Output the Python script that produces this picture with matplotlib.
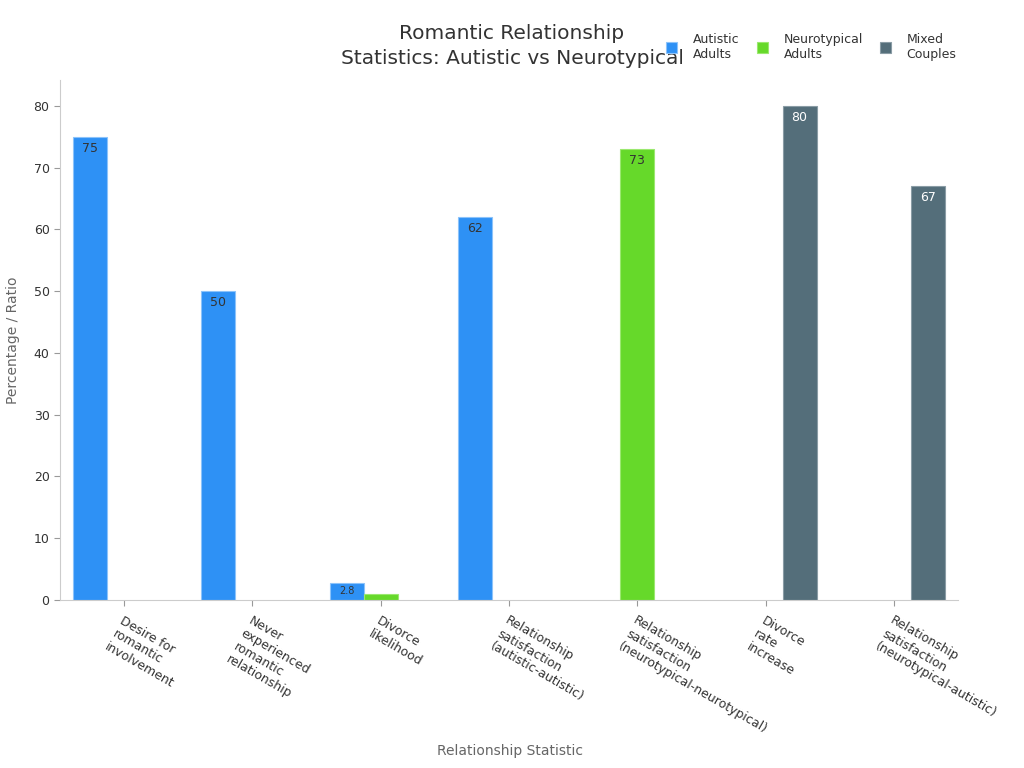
import matplotlib
matplotlib.use("Agg")
import matplotlib.pyplot as plt
import numpy as np

categories = [
    "Desire for\nromantic\ninvolvement",
    "Never\nexperienced\nromantic\nrelationship",
    "Divorce\nlikelihood",
    "Relationship\nsatisfaction\n(autistic-autistic)",
    "Relationship\nsatisfaction\n(neurotypical-neurotypical)",
    "Divorce\nrate\nincrease",
    "Relationship\nsatisfaction\n(neurotypical-autistic)",
]
series_names = ["Autistic\nAdults", "Neurotypical\nAdults", "Mixed\nCouples"]
autistic = [75, 50, 2.8, 62, 0, 0, 0]
neurotypical = [0, 0, 1, 0, 73, 0, 0]
mixed = [0, 0, 0, 0, 0, 80, 67]
colors = ["#2E91F5", "#66D92A", "#546E7A"]
edge_colors = ["#8CC3FA", "#9BE86F", "#8A9CA5"]
label_colors = ["#333333", "#333333", "#FFFFFF"]

fig = plt.figure(figsize=(10.24, 7.68), dpi=100)
ax = fig.add_axes([0.0586, 0.21875, 0.877, 0.677])

x = np.arange(len(categories))
w = 0.265
offsets = [-w, 0, w]
for vals, off, c, ec, lc, name in zip([autistic, neurotypical, mixed], offsets,
                                      colors, edge_colors, label_colors, series_names):
    v_arr = np.array(vals, dtype=float)
    mask = v_arr > 0
    bars = ax.bar(x[mask] + off, v_arr[mask], width=w, color=c, edgecolor=ec,
                  linewidth=0.8, label=name)
    for b, v in zip(bars, v_arr[mask]):
        if v < 2:
            continue
        if v < 5:
            ax.text(b.get_x() + b.get_width() / 2, v / 2, f"{v:g}", ha="center", va="center",
                    fontsize=7, color=lc)
        else:
            ax.text(b.get_x() + b.get_width() / 2, v - 0.8, f"{v:g}", ha="center", va="top",
                    fontsize=9, color=lc)

ax.set_xlim(-0.5, 6.5)
ax.set_ylim(0, 84.2)
ax.set_yticks(range(0, 81, 10))
ax.set_xticks(x)
ax.set_xticklabels(categories, rotation=-30, ha="left", va="top", rotation_mode="anchor",
                   fontsize=9, color="#333333", multialignment="left")
ax.tick_params(axis="y", labelsize=9, colors="#333333", length=4, color="#999999")
ax.tick_params(axis="x", length=4, color="#999999", pad=6)
for s in ["top", "right"]:
    ax.spines[s].set_visible(False)
for s in ["left", "bottom"]:
    ax.spines[s].set_color("#CCCCCC")
ax.set_ylabel("Percentage / Ratio", fontsize=10, color="#666666", labelpad=10)
fig.text(0.498, 1 - 751 / 768, "Relationship Statistic", ha="center", va="center",
         fontsize=10, color="#666666")

fig.text(0.5, 1 - 46 / 768, "Romantic Relationship\nStatistics: Autistic vs Neurotypical",
         ha="center", va="center", fontsize=14.5, color="#333333", linespacing=1.4)

leg = fig.legend(loc="center right", bbox_to_anchor=(0.945, 1 - 47 / 768), ncol=3, frameon=False,
                 fontsize=9, handlelength=0.9, handleheight=1.0, columnspacing=1.35,
                 handletextpad=1.25, labelcolor="#333333")

fig.savefig("out.png", dpi=100)
